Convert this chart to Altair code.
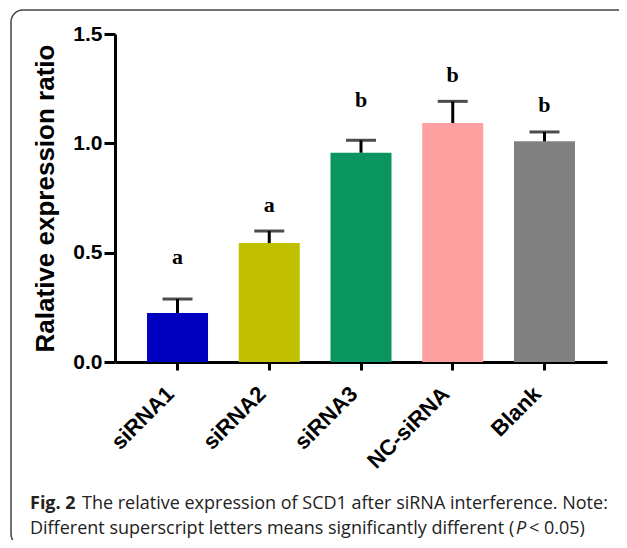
import altair as alt
import pandas as pd

groups = ["siRNA1", "siRNA2", "siRNA3", "NC-siRNA", "Blank"]
means = [0.224, 0.544, 0.957, 1.093, 1.009]
errors = [0.064, 0.055, 0.057, 0.099, 0.043]
letters = ["a", "a", "b", "b", "b"]
letter_y = [0.48, 0.718, 1.198, 1.312, 1.175]
colors = ["#0000C0", "#C0C000", "#0A9460", "#FFA0A0", "#808080"]

df = pd.DataFrame({
    "group": groups,
    "mean": means,
    "top": [m + e for m, e in zip(means, errors)],
    "letter": letters,
    "ly": letter_y,
})

W, H = 492, 328

xscale = alt.Scale(domain=groups, paddingInner=0.335, paddingOuter=0.349)
yscale = alt.Scale(domain=[0, 1.5], nice=False)

x_axis = alt.Axis(
    title=None, labelAngle=-45, labelAlign="right", labelBaseline="middle",
    labelFont="Liberation Sans", labelFontWeight="bold",
    labelFontSize=22, labelColor="black", tickSize=8, tickWidth=3, tickColor="black",
    domainWidth=3, domainColor="black", labelPadding=20, labelOffset=-7,
)
y_axis = alt.Axis(
    title="Ralative expression ratio", values=[0, 0.5, 1.0, 1.5], format=".1f",
    labelFont="Liberation Sans", labelFontWeight="bold", labelFontSize=21, labelColor="black",
    tickSize=11, tickWidth=3, tickColor="black", domainWidth=3, domainColor="black",
    labelPadding=2, grid=False, titleFont="Liberation Sans", titleFontWeight="bold",
    titleFontSize=26, titleColor="black", titlePadding=14,
)

base = alt.Chart(df)

bars = base.mark_bar().encode(
    x=alt.X("group:N", scale=xscale, axis=x_axis, sort=groups),
    y=alt.Y("mean:Q", scale=yscale, axis=y_axis),
    color=alt.Color("group:N", scale=alt.Scale(domain=groups, range=colors), legend=None),
)

err_rule = base.mark_rule(color="black", strokeWidth=3).encode(
    x=alt.X("group:N", scale=xscale, sort=groups),
    y=alt.Y("mean:Q", scale=yscale),
    y2="top:Q",
)
err_cap = base.mark_tick(color="black", thickness=3, size=30).encode(
    x=alt.X("group:N", scale=xscale, sort=groups),
    y=alt.Y("top:Q", scale=yscale),
)
letter_text = base.mark_text(
    font="Liberation Serif", fontWeight="bold", fontSize=22, color="black", baseline="middle"
).encode(
    x=alt.X("group:N", scale=xscale, sort=groups),
    y=alt.Y("ly:Q", scale=yscale),
    text="letter:N",
)

border = alt.Chart(pd.DataFrame({"k": [0]})).mark_rect(
    fill=None, stroke="#444444", strokeWidth=1.5, cornerRadius=12
).encode(
    x=alt.value(-104), x2=alt.value(520), y=alt.value(-24), y2=alt.value(512)
)

cap_font = "Open Sans"
cap_color = "#222222"


def cap_text(txt, x, y, **kw):
    return alt.Chart(pd.DataFrame({"t": [txt]})).mark_text(
        font=cap_font, fontSize=18, align="left", baseline="alphabetic", color=cap_color, **kw
    ).encode(x=alt.value(x), y=alt.value(y), text="t:N")


cap1_bold = cap_text("Fig. 2", -85, 475, fontWeight="bold")
cap1 = cap_text("The relative expression of SCD1 after siRNA interference. Note:", -33, 475)
cap2 = cap_text("Different superscript letters means significantly different", -85, 500)
cap2_paren = cap_text("(", 394, 500)
cap2_p = cap_text("P", 401, 500, fontStyle="italic")
cap2_end = cap_text("< 0.05)", 414, 500)

chart = alt.layer(
    border, bars, err_rule, err_cap, letter_text,
    cap1_bold, cap1, cap2, cap2_paren, cap2_p, cap2_end
).properties(
    width=W, height=H,
    autosize=alt.AutoSizeParams(type="none"),
    padding={"left": 107, "top": 26, "right": 12, "bottom": 178},
).configure_view(stroke=None)

chart.save("out.html", embed_options={"renderer": "svg", "actions": False})
